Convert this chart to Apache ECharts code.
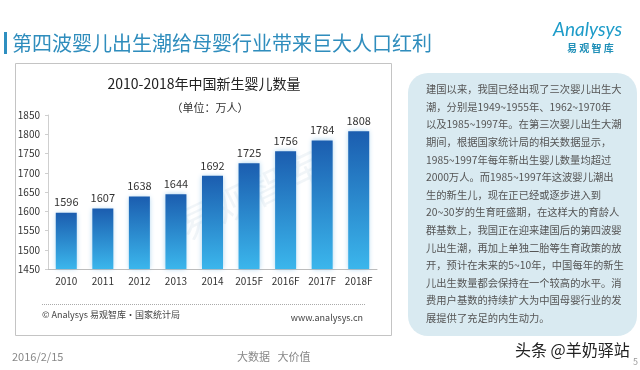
<!DOCTYPE html>
<html>
<head>
<meta charset="utf-8">
<script src="https://cdn.jsdelivr.net/npm/echarts/dist/echarts.min.js"></script>
<style>
html,body{margin:0;padding:0;background:#fff;}
#main{width:640px;height:370px;}
</style>
</head>
<body>
<div id="main"></div>
<script>
const pageTitle = '第四波婴儿出生潮给母婴行业带来巨大人口红利';
const chartTitle = '2010-2018年中国新生婴儿数量';
const unitText = '（单位：万人）';
const categories = ['2010','2011','2012','2013','2014','2015F','2016F','2017F','2018F'];
const births = [1596,1607,1638,1644,1692,1725,1756,1784,1808];
const yMin = 1450, yMax = 1850, yStep = 50;
const sourceText = '© Analysys 易观智库·国家统计局';
const siteText = 'www.analysys.cn';
const panelLines = [
  '建国以来，我国已经出现了三次婴儿出生大',
  '潮，分别是1949~1955年、1962~1970年',
  '以及1985~1997年。在第三次婴儿出生大潮',
  '期间，根据国家统计局的相关数据显示，',
  '1985~1997年每年新出生婴儿数量均超过',
  '2000万人。而1985~1997年这波婴儿潮出',
  '生的新生儿，现在正已经或逐步进入到',
  '20~30岁的生育旺盛期，在这样大的育龄人',
  '群基数上，我国正在迎来建国后的第四波婴',
  '儿出生潮，再加上单独二胎等生育政策的放',
  '开，预计在未来的5~10年，中国每年的新生',
  '儿出生数量都会保持在一个较高的水平。消',
  '费用户基数的持续扩大为中国母婴行业的发',
  '展提供了充足的内生动力。'
];
const footerDate = '2016/2/15';
const footerSlogan = '大数据   大价值';
const watermarkText = '头条 @羊奶驿站';

const FONT = '"Noto Sans CJK SC", "Noto Sans", sans-serif';
const chart = echarts.init(document.getElementById('main'), null, {renderer: 'canvas'});

const option = {
  backgroundColor: '#fff',
  animation: false,
  textStyle: {fontFamily: FONT},
  grid: {left: 48, right: 263, top: 115, bottom: 101, containLabel: false},
  xAxis: {
    type: 'category',
    data: categories,
    axisLine: {lineStyle: {color: '#bdbdbd'}},
    axisTick: {show: false},
    axisLabel: {color: '#333', fontSize: 10, margin: 7, fontFamily: FONT}
  },
  yAxis: {
    type: 'value',
    min: yMin, max: yMax, interval: yStep,
    axisLine: {show: true, lineStyle: {color: '#cfcfcf'}},
    axisTick: {show: true, length: 3, lineStyle: {color: '#cfcfcf'}},
    splitLine: {show: false},
    axisLabel: {color: '#333', fontSize: 10, margin: 8, fontFamily: FONT, formatter: v => String(v)}
  },
  series: [{
    type: 'bar',
    data: births,
    barWidth: 21,
    itemStyle: {
      color: new echarts.graphic.LinearGradient(0, 0, 0, 1, [
        {offset: 0, color: '#1b5daf'},
        {offset: 1, color: '#3bb6ec'}
      ]),
      shadowBlur: 5,
      shadowColor: 'rgba(90,170,225,0.55)'
    },
    label: {show: true, position: 'top', distance: 5, color: '#333', fontSize: 11, fontFamily: FONT}
  }],
  graphic: [
    {type: 'rect', shape: {x: 4, y: 32, width: 3, height: 22}, style: {fill: '#2e8fc0'}},
    {type: 'text', x: 12, y: 43, style: {text: pageTitle, fontSize: 20, fill: '#2f8dbd', fontFamily: FONT, verticalAlign: 'middle'}},
    {type: 'text', x: 553, y: 30, style: {text: 'Analysys', fontSize: 19, fontStyle: 'italic', fill: '#1e9cc9', fontFamily: 'Lato, "Open Sans", sans-serif', verticalAlign: 'middle'}},
    {type: 'text', x: 567, y: 48, style: {text: '易 观 智 库', fontSize: 10, fontWeight: 'bold', fill: '#2190b8', fontFamily: FONT, verticalAlign: 'middle'}},
    {type: 'rect', shape: {x: 15.5, y: 63.5, width: 376, height: 272}, style: {fill: 'none', stroke: '#c4c4c4', lineWidth: 1}},
    {type: 'text', x: 204, y: 84, style: {text: chartTitle, fontSize: 14, fill: '#222', fontFamily: FONT, align: 'center', verticalAlign: 'middle'}},
    {type: 'text', x: 210, y: 108, style: {text: unitText, fontSize: 11, fill: '#333', fontFamily: FONT, align: 'center', verticalAlign: 'middle'}},
    {type: 'text', x: 250, y: 195, rotation: 0.45, style: {text: '易观智库', fontSize: 38, fill: 'rgba(180,200,215,0.18)', fontFamily: FONT, align: 'center', verticalAlign: 'middle'}},
    {type: 'line', shape: {x1: 42, y1: 304.5, x2: 365, y2: 304.5}, style: {stroke: '#aaa', lineWidth: 1, lineDash: [1, 1]}},
    {type: 'text', x: 42, y: 315, style: {text: sourceText, fontSize: 9, fill: '#444', fontFamily: FONT, verticalAlign: 'middle'}},
    {type: 'text', x: 363, y: 318, style: {text: siteText, fontSize: 9, fill: '#444', fontFamily: FONT, align: 'right', verticalAlign: 'middle'}},
    {type: 'rect', shape: {x: 408, y: 73, width: 229, height: 263, r: 20}, style: {fill: '#d9eaf1'}},
    {type: 'text', x: 426, y: 80.5, style: {text: panelLines.join('\n'), fontSize: 10.3, lineHeight: 17.6, fill: '#555', fontFamily: FONT, verticalAlign: 'top'}},
    {type: 'text', x: 12, y: 357, style: {text: footerDate, fontSize: 11, fill: '#888', fontFamily: FONT, verticalAlign: 'middle'}},
    {type: 'text', x: 237, y: 357, style: {text: footerSlogan, fontSize: 11, fill: '#888', fontFamily: FONT, verticalAlign: 'middle'}},
    {type: 'text', x: 515, y: 350, style: {text: watermarkText, fontSize: 16, fill: '#222', fontFamily: FONT, verticalAlign: 'middle'}},
    {type: 'text', x: 633, y: 362, style: {text: '5', fontSize: 9, fill: '#999', fontFamily: FONT, verticalAlign: 'middle'}}
  ]
};
chart.setOption(option);
</script>
</body>
</html>
